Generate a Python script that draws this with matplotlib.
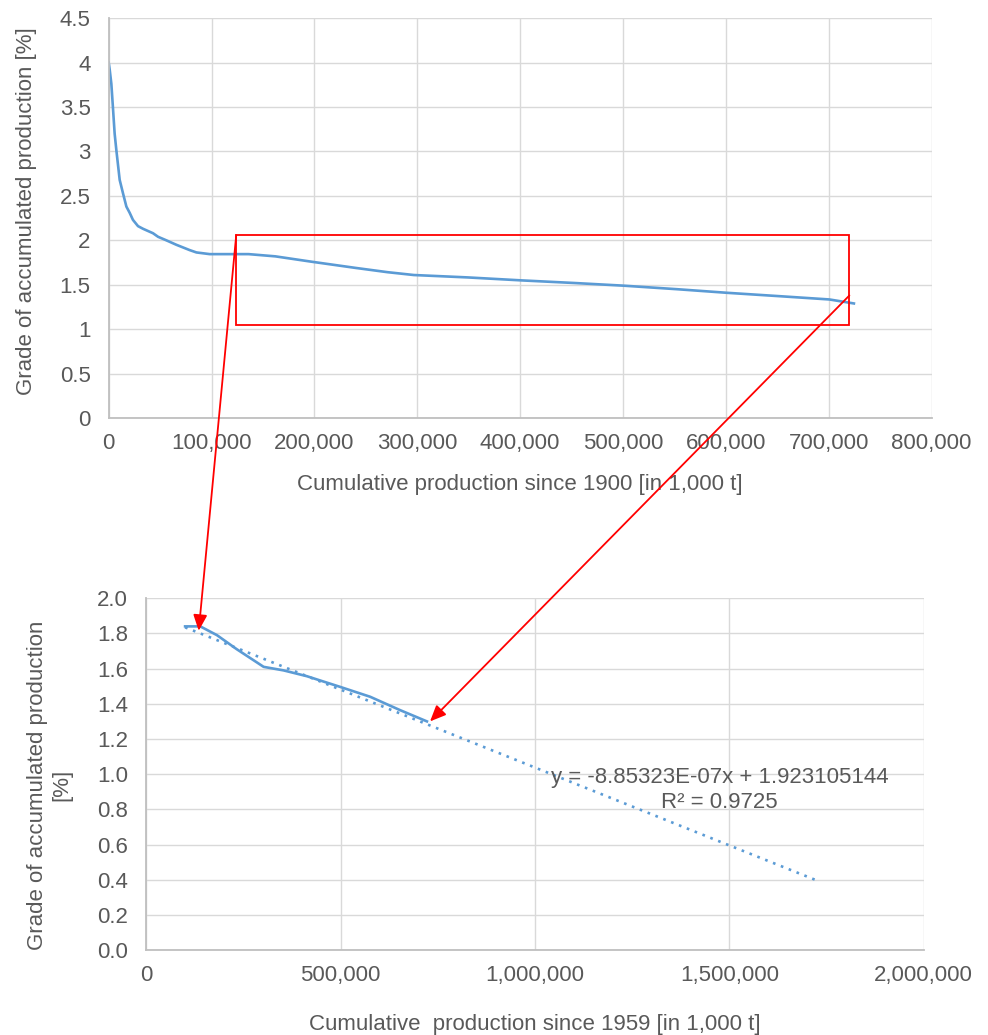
import matplotlib
matplotlib.use("Agg")
import matplotlib.pyplot as plt
from matplotlib.patches import Rectangle, ConnectionPatch
from matplotlib.ticker import FuncFormatter, MultipleLocator

plt.rcParams['font.family'] = ['Liberation Sans', 'DejaVu Sans']

# ---- data ----
top_x = [0, 1000, 2600, 4100, 5800, 7500, 10700, 13900, 17200, 20400, 23600, 28500,
         33400, 43100, 48000, 56100, 65800, 78800, 85300, 98200,
         136000, 162000, 197000, 240000, 271000, 296600, 349000, 400600, 453000,
         500800, 553000, 601000, 652000, 700600, 724400]
top_y = [4.0, 3.92, 3.76, 3.5, 3.2, 3.01, 2.68, 2.53, 2.38, 2.31, 2.23, 2.16,
         2.13, 2.08, 2.04, 2.0, 1.95, 1.89, 1.864, 1.845,
         1.845, 1.82, 1.76, 1.69, 1.642, 1.61, 1.583, 1.55, 1.52,
         1.49, 1.45, 1.41, 1.372, 1.335, 1.29]

bot_x = [100000, 139000, 182000, 233000, 302000, 353000, 413000, 499000, 576000, 653000, 722000]
bot_y = [1.84, 1.84, 1.79, 1.71, 1.61, 1.59, 1.557, 1.496, 1.44, 1.364, 1.30]

slope = -8.85323e-07
intercept = 1.923105144
r2 = 0.9725
trend_x = [100000, 1730000]

zoom_box_x = [124000, 720000]
zoom_box_y = [1.05, 2.06]

top_xlabel = "Cumulative production since 1900 [in 1,000 t]"
top_ylabel = "Grade of accumulated production [%]"
bot_xlabel = "Cumulative  production since 1959 [in 1,000 t]"
bot_ylabel = "Grade of accumulated production\n[%]"

# ---- style ----
BLUE = "#5b9bd5"
TXT = "#595959"
GRID = "#d9d9d9"
AX = "#bfbfbf"
FS = 16

fig = plt.figure(figsize=(9.88, 10.35), dpi=100)
ax1 = fig.add_axes([0.110, 0.596, 0.833, 0.3865])
ax2 = fig.add_axes([0.148, 0.082, 0.787, 0.340])

comma = FuncFormatter(lambda v, p: f"{v:,.0f}")

def style(ax):
    for s in ["top", "right"]:
        ax.spines[s].set_visible(False)
    for s in ["left", "bottom"]:
        ax.spines[s].set_color(AX)
        ax.spines[s].set_linewidth(1.3)
    ax.grid(True, color=GRID, linewidth=1.0)
    ax.set_axisbelow(True)
    ax.tick_params(length=0, colors=TXT, labelsize=FS)
    ax.tick_params(axis='y', pad=13)
    ax.tick_params(axis='x', pad=11)

# top
ax1.plot(top_x, top_y, color=BLUE, lw=1.9, solid_joinstyle='round')
ax1.set_xlim(0, 800000)
ax1.set_ylim(0, 4.5)
ax1.xaxis.set_major_locator(MultipleLocator(100000))
ax1.yaxis.set_major_locator(MultipleLocator(0.5))
ax1.xaxis.set_major_formatter(comma)
ax1.yaxis.set_major_formatter(FuncFormatter(lambda v, p: f"{v:g}"))
style(ax1)
ax1.set_xlabel(top_xlabel, color=TXT, fontsize=FS, labelpad=14)
ax1.set_ylabel(top_ylabel, color=TXT, fontsize=FS)
ax1.yaxis.set_label_coords(-0.087, 0.5175)
ax1.add_patch(Rectangle((zoom_box_x[0], zoom_box_y[0]),
                        zoom_box_x[1] - zoom_box_x[0], zoom_box_y[1] - zoom_box_y[0],
                        fill=False, edgecolor="red", lw=1.3, zorder=4))

# bottom
ty = [slope * x + intercept for x in trend_x]
ax2.plot(trend_x, ty, color=BLUE, lw=1.9, linestyle=(0, (1, 2.2)), dash_capstyle='butt')
ax2.plot(bot_x, bot_y, color=BLUE, lw=1.9, solid_joinstyle='round')
ax2.set_xlim(0, 2000000)
ax2.set_ylim(0, 2.0)
ax2.xaxis.set_major_locator(MultipleLocator(500000))
ax2.yaxis.set_major_locator(MultipleLocator(0.2))
ax2.xaxis.set_major_formatter(comma)
ax2.yaxis.set_major_formatter(FuncFormatter(lambda v, p: f"{v:.1f}"))
style(ax2)
ax2.set_xlabel(bot_xlabel, color=TXT, fontsize=FS, labelpad=20)
ax2.set_ylabel(bot_ylabel, color=TXT, fontsize=FS)
ax2.yaxis.set_label_coords(-0.095, 0.469)
ax2.text(1475000, 0.98, f"y = {slope:.5E}x + {intercept:.9f}",
         ha='center', va='center', color=TXT, fontsize=FS)
ax2.text(1475000, 0.84, f"R\u00b2 = {r2:.4f}", ha='center', va='center', color=TXT, fontsize=FS)

# arrows from top box to bottom chart
arrows = [((zoom_box_x[0], zoom_box_y[1]), (bot_x[1] - 4000, 1.815)),
          ((zoom_box_x[1], 1.38), (bot_x[-1] + 8000, 1.30))]
for a, b in arrows:
    cp = ConnectionPatch(xyA=a, coordsA=ax1.transData, xyB=b, coordsB=ax2.transData,
                         arrowstyle='-|>,head_length=0.8,head_width=0.35', color='red',
                         lw=1.3, mutation_scale=12, zorder=10)
    fig.add_artist(cp)

fig.savefig("out.png", dpi=100)
